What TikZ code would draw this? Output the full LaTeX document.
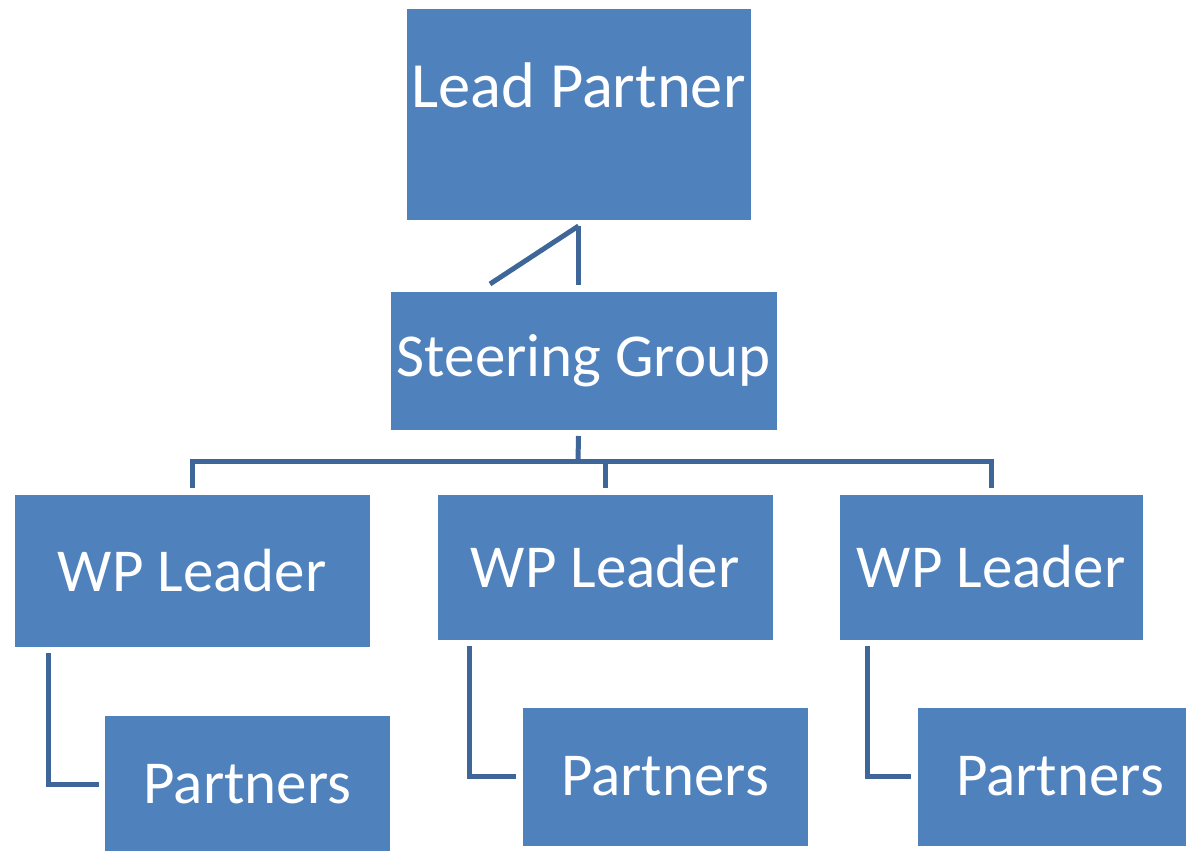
\documentclass[tikz,border=0pt]{standalone}
\usepackage{fontspec}
\setmainfont{Carlito}
\usepackage{tikz}

\definecolor{boxblue}{HTML}{4F81BD}
\definecolor{linkblue}{HTML}{3F6699}

\begin{document}
\begin{tikzpicture}[x=1pt,y=-1pt,
        box/.style={rectangle,fill=boxblue,draw=white,line width=0.6pt,
                    text=white,inner sep=0pt,outer sep=6pt,
                    font=\fontsize{61}{73}\selectfont},
        link/.style={draw=linkblue,line width=5pt}]
       \useasboundingbox (0,0) rectangle (1186,851);
       \clip (0,0) rectangle (1186,851);
       % boxes
       \node[box,minimum width=345pt,text height=99pt,text depth=113pt,
             font=\fontsize{64.5}{76}\selectfont] (lp) at (578.5,114) {Lead Partner};
       \node[box,minimum width=387pt,minimum height=139pt] (sg) at (583.5,360.5) {Steering Group};
       \node[box,minimum width=356pt,minimum height=153pt] (wp1) at (192,570.5) {WP Leader};
       \node[box,minimum width=336pt,minimum height=146pt] (wp2) at (605,567) {WP Leader};
       \node[box,minimum width=304pt,minimum height=146pt] (wp3) at (991,567) {WP Leader};
       \node[box,minimum width=286pt,minimum height=139pt] (p1) at (247.5,784.5) {Partners};
       \node[box,minimum width=286pt,minimum height=139pt] (p2) at (665,776.5) {Partners};
       \node[box,minimum width=286pt,minimum height=139pt] (p3) at (1060,776.5) {Partners};
       \coordinate (diag) at (490,284);
       \coordinate (bus) at (578,461);
       % lead partner to steering group
       \draw[link] (lp.south) -- (lp.south |- sg.north);
       \draw[link] (lp.south) -- (diag);
       % steering group to wp leaders
       \draw[link] (lp.south |- sg.south) -- (bus);
       \draw[link] (wp1.north) |- (bus);
       \draw[link] (wp2.north) |- (bus);
       \draw[link] (wp3.north) |- (bus);
       % wp leaders to partners
       \draw[link] (p1.west) -| ([xshift=40pt]wp1.south west);
       \draw[link] (p2.west) -| ([xshift=38pt]wp2.south west);
       \draw[link] (p3.west) -| ([xshift=34pt]wp3.south west);
\end{tikzpicture}
\end{document}
